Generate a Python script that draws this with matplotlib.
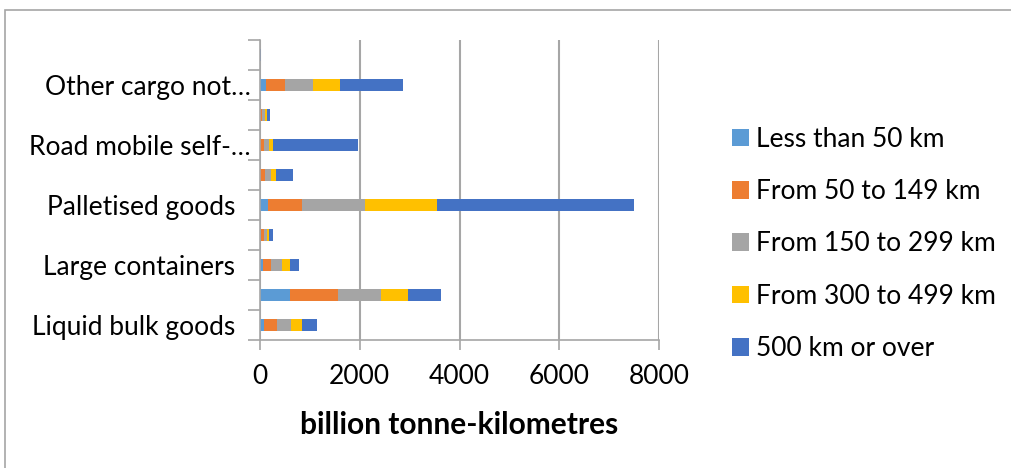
import matplotlib
matplotlib.use("Agg")
import matplotlib.pyplot as plt
import matplotlib.transforms as mtransforms
from matplotlib.patches import Patch, Rectangle
import numpy as np

# type of cargo, bottom to top
categories = ["Liquid bulk goods", "Solid bulk goods", "Large containers",
              "Other containers (swap bodies)", "Palletised goods", "Pre-slung goods",
              "Road mobile self-propelled units", "Other mobile units",
              "Other cargo not elsewhere specified", "Unknown"]
tick_labels = ["Liquid bulk goods", "", "Large containers", "", "Palletised goods", "",
               "Road mobile self-\u2026", "", "Other cargo not\u2026", ""]

series = ["Less than 50 km", "From 50 to 149 km", "From 150 to 299 km",
          "From 300 to 499 km", "500 km or over"]
lt50 = [80, 600, 60, 20, 160, 5, 10, 10, 120, 2]
d50_149 = [260, 960, 160, 60, 680, 105, 70, 40, 380, 2]
d150_299 = [280, 865, 220, 60, 1265, 113, 100, 60, 560, 2]
d300_499 = [220, 540, 160, 40, 1445, 100, 80, 40, 540, 2]
d500 = [300, 660, 180, 80, 3955, 340, 1705, 60, 1265, 18]
colors = ["#5B9BD5", "#ED7D31", "#A5A5A5", "#FFC000", "#4472C4"]

fig = plt.figure(figsize=(10.11, 4.68), dpi=100)
fig.patches.append(Rectangle((5 / 1011, -0.1), 1.2, 1.1 - 10 / 468,
                             transform=fig.transFigure, fill=False,
                             edgecolor="#A6A6A6", linewidth=1.2))
ax = fig.add_axes([260 / 1011, 128 / 468, 399 / 1011, 300 / 468])

font = "Lato"
fs = 19
y = np.arange(len(categories))
left = np.zeros(len(categories))
for name, vals, c in zip(series, [lt50, d50_149, d150_299, d300_499, d500], colors):
    ax.barh(y, vals, left=left, height=0.42, color=c, label=name)
    left += np.array(vals)

ax.set_xlim(0, 8000)
ax.set_ylim(-0.5, len(categories) - 0.5)
ax.set_xticks([0, 2000, 4000, 6000, 8000])
ax.set_xticklabels(["0", "2000", "4000", "6000", "8000"], fontsize=fs, family=font)
ax.set_yticks(y)
ax.set_yticklabels(tick_labels, fontsize=fs, family=font)
ax.set_yticks(np.arange(-0.5, len(categories)), minor=True)
ax.tick_params(axis="y", which="major", length=0, pad=18)
ax.tick_params(axis="y", which="minor", length=9, color="#A6A6A6", width=1.2)
ax.tick_params(axis="x", length=7, color="#A6A6A6", width=1.2, pad=10)
# truncated names sit closer to the axis
for lbl in ax.get_yticklabels():
    if lbl.get_text().endswith("\u2026"):
        lbl.set_transform(lbl.get_transform() +
                          mtransforms.ScaledTranslation(16 / 100, 0, fig.dpi_scale_trans))

ax.grid(axis="x", color="#A6A6A6", linewidth=1.5)
ax.set_axisbelow(True)
for s in ["top", "right"]:
    ax.spines[s].set_visible(False)
ax.spines["left"].set_color("#A6A6A6")
ax.spines["bottom"].set_color("#A6A6A6")
ax.spines["left"].set_linewidth(1.2)
ax.spines["bottom"].set_linewidth(1.2)

ax.set_xlabel("billion tonne-kilometres", fontsize=21.5, fontweight="bold",
              family=font, labelpad=16)

handles = [Patch(facecolor=c) for c in colors]
fig.legend(handles, series, loc="center left", bbox_to_anchor=(708 / 1011, 224 / 468),
           frameon=False, prop={"family": font, "size": fs},
           handlelength=0.65, handleheight=0.65, handletextpad=0.25,
           labelspacing=1.04)

fig.savefig("out.png", dpi=100)
